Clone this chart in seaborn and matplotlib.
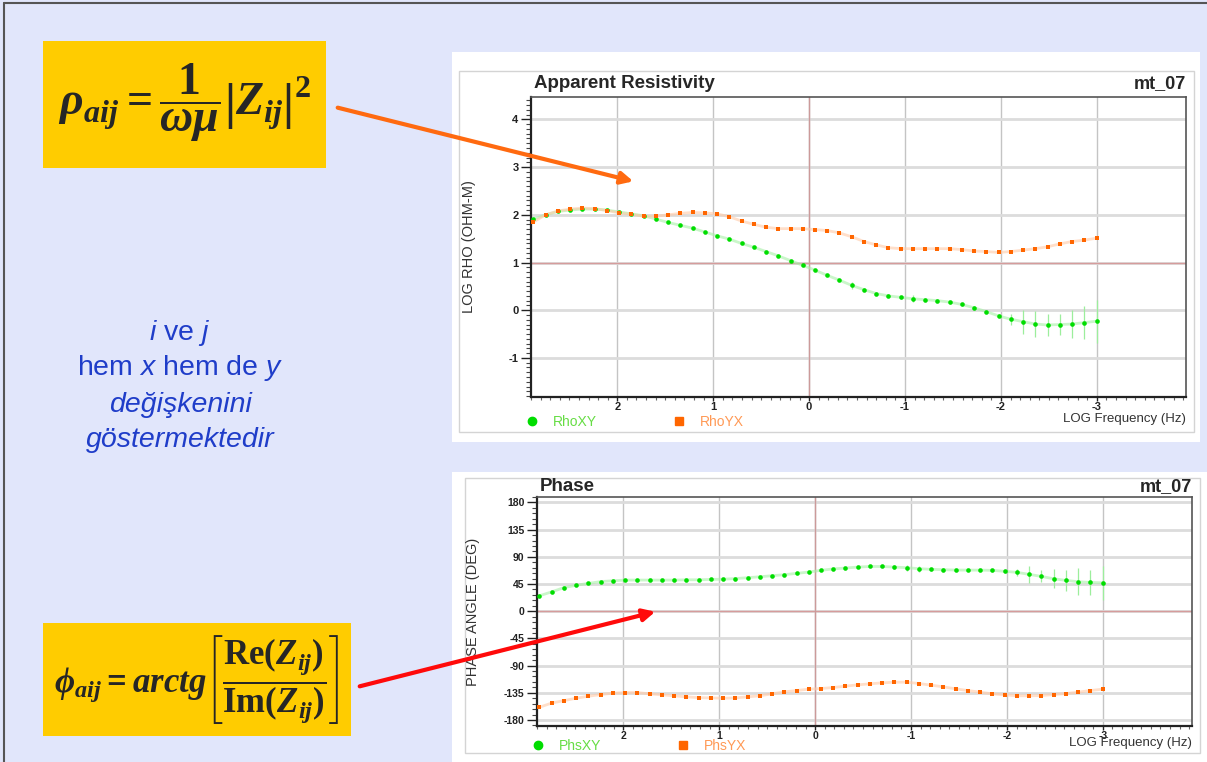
import matplotlib
matplotlib.use("Agg")
import matplotlib.pyplot as plt
import seaborn as sns
from matplotlib.patches import Rectangle, FancyArrowPatch
from matplotlib.lines import Line2D
from matplotlib.ticker import MultipleLocator

# ---- data ----
log_freq = [2.875, 2.747, 2.620, 2.492, 2.364, 2.237, 2.109, 1.981, 1.854, 1.726,
            1.598, 1.471, 1.343, 1.215, 1.088, 0.960, 0.832, 0.705, 0.577, 0.449,
            0.322, 0.194, 0.066, -0.061, -0.189, -0.316, -0.444, -0.572, -0.699, -0.827,
            -0.955, -1.082, -1.210, -1.338, -1.465, -1.593, -1.721, -1.848, -1.976, -2.104,
            -2.231, -2.359, -2.487, -2.614, -2.742, -2.870, -3.0]

rho_xy = [1.91, 2.00, 2.07, 2.10, 2.12, 2.12, 2.10, 2.06, 2.02, 1.98,
          1.91, 1.84, 1.78, 1.72, 1.64, 1.56, 1.49, 1.40, 1.32, 1.23,
          1.14, 1.04, 0.94, 0.84, 0.73, 0.63, 0.52, 0.43, 0.35, 0.30,
          0.27, 0.24, 0.22, 0.20, 0.17, 0.12, 0.05, -0.03, -0.12, -0.19,
          -0.24, -0.29, -0.31, -0.30, -0.29, -0.26, -0.23]
rho_xy_err = [0.02] * 26 + [0.08, 0.03, 0.03, 0.03, 0.03, 0.07, 0.03, 0.03, 0.03, 0.03,
                            0.03, 0.03, 0.03, 0.12, 0.25, 0.27, 0.23, 0.23, 0.30, 0.35, 0.45]
rho_yx = [1.85, 2.00, 2.08, 2.12, 2.14, 2.13, 2.09, 2.04, 2.01, 1.97,
          1.97, 2.00, 2.03, 2.05, 2.04, 2.02, 1.96, 1.87, 1.80, 1.74,
          1.71, 1.71, 1.71, 1.69, 1.67, 1.62, 1.54, 1.44, 1.37, 1.31,
          1.29, 1.29, 1.29, 1.29, 1.29, 1.27, 1.24, 1.23, 1.21, 1.23,
          1.26, 1.29, 1.33, 1.39, 1.44, 1.47, 1.51]

phs_xy = [25.5, 32, 39, 43, 46, 49, 50.4, 51.5, 51.5, 51.5,
          51.5, 51.5, 52, 52, 52.6, 53, 54, 55.4, 57, 58.7,
          60.4, 62.6, 64.8, 67.6, 70, 71.5, 73, 74, 74, 73,
          72, 70.4, 69.3, 68.7, 68.1, 68, 68, 67.6, 66, 64.3,
          61, 57.6, 53.7, 51, 48.8, 47.6, 47]
phs_xy_err = [1] * 29 + [3, 5, 5, 2, 2, 2, 2, 2, 2, 3, 6, 14, 10, 16, 18, 22, 20, 28]
phs_yx = [-159, -152, -148, -144, -140.7, -138, -135.7, -134.6, -134.6, -136.8,
          -138.5, -140, -141.8, -143, -143.5, -144, -143.5, -141.8, -140, -136.8,
          -133.5, -131.3, -129, -128, -126.3, -124, -121.9, -120.2, -118.6, -117.5,
          -117.5, -119.7, -122.4, -125.2, -128.5, -131.3, -134, -136.8, -138.5, -140,
          -140, -139.6, -138, -136.3, -134, -131.3, -129]

rho_ticks = [4, 3, 2, 1, 0, -1]
phs_ticks = [180, 135, 90, 45, 0, -45, -90, -135, -180]
freq_ticks = [2, 1, 0, -1, -2, -3]

GREEN = "#00dd00"
ORANGE = "#ff6600"
W, H = 1207, 762

sns.set_style("white")
plt.rcParams["font.family"] = ["Liberation Sans", "DejaVu Sans"]
plt.rcParams["mathtext.fontset"] = "custom"
plt.rcParams["mathtext.rm"] = "Liberation Serif:bold"
plt.rcParams["mathtext.bf"] = "Liberation Serif:bold"
plt.rcParams["mathtext.bfit"] = "Liberation Serif:italic:bold"
plt.rcParams["mathtext.it"] = "Liberation Sans:italic"


def fx(x):
    return x / W


def fy(y):
    return 1 - y / H


def box(x0, y0, x1, y1, **kw):
    return Rectangle((fx(x0), fy(y1)), fx(x1) - fx(x0), fy(y0) - fy(y1),
                     transform=fig.transFigure, **kw)


fig = plt.figure(figsize=(W / 100, H / 100), dpi=100)
fig.patch.set_facecolor("#e1e6fb")

# slide frame lines
fig.add_artist(Line2D([fx(4), 1], [fy(3), fy(3)], color="#555555", lw=1.5, transform=fig.transFigure))
fig.add_artist(Line2D([fx(4), fx(4)], [fy(3), 0], color="#555555", lw=1.5, transform=fig.transFigure))

# white panels
fig.add_artist(box(452, 52, 1200, 442, facecolor="white", edgecolor="none", zorder=-2))
fig.add_artist(box(459, 71, 1194, 432, facecolor="none", edgecolor="#d4d4d4", lw=1, zorder=-1))
fig.add_artist(box(452, 472, 1207, 762, facecolor="white", edgecolor="none", zorder=-2))
fig.add_artist(box(465, 478, 1200, 753, facecolor="none", edgecolor="#d4d4d4", lw=1, zorder=-1))

# formula boxes
fig.add_artist(box(43, 41, 326, 168, facecolor="#ffcc00", edgecolor="none", zorder=-1))
fig.add_artist(box(43, 623, 351, 736, facecolor="#ffcc00", edgecolor="none", zorder=-1))
fig.text(fx(184), fy(103),
         r"$\mathbfit{\rho}_{\mathbfit{aij}}\mathbf{=}\dfrac{\mathbf{1}}{\mathbfit{\omega\mu}}"
         r"\left|\mathbfit{Z}_{\mathbfit{ij}}\right|^{\mathbf{2}}$",
         fontsize=33, ha="center", va="center")
fig.text(fx(197), fy(680),
         r"$\mathbfit{\phi}_{\mathbfit{aij}}\mathbf{=}\mathbfit{arctg}\left[\dfrac{\mathbf{Re(}\mathbfit{Z}_{\mathbfit{ij}}\mathbf{)}}"
         r"{\mathbf{Im(}\mathbfit{Z}_{\mathbfit{ij}}\mathbf{)}}\right]$",
         fontsize=25, ha="center", va="center")

# middle text
BLUE = "#1f3dc9"
fig.text(fx(180), fy(333), r"$\mathit{i}$ ve $\mathit{j}$", color=BLUE, fontsize=20.5, ha="center", va="center")
fig.text(fx(180), fy(368), r"hem $\mathit{x}$ hem de $\mathit{y}$", color=BLUE, fontsize=20.5, ha="center", va="center")
fig.text(fx(180), fy(405), "değişkenini", color=BLUE, fontsize=20.5, style="italic", ha="center", va="center")
fig.text(fx(180), fy(440), "göstermektedir", color=BLUE, fontsize=20.5, style="italic", ha="center", va="center")


def style_axes(ax, ylim, yticks, yminor, ylabel, hline, title, lab_x):
    ax.set_xlim(2.9, -3.93)
    ax.set_ylim(*ylim)
    ax.set_xticks(freq_ticks)
    ax.set_xticklabels([str(t) for t in freq_ticks])
    ax.set_yticks(yticks)
    ax.set_yticklabels([str(t) for t in yticks])
    ax.xaxis.set_minor_locator(MultipleLocator(0.1))
    ax.yaxis.set_minor_locator(MultipleLocator(yminor))
    ax.tick_params(axis="y", which="major", direction="out", length=7, width=1, pad=2,
                   labelsize=8, colors="#222222", left=True)
    ax.tick_params(axis="y", which="minor", direction="out", length=3.5, width=0.8, left=True, colors="#444444")
    ax.tick_params(axis="x", which="major", direction="out", length=3, width=1, pad=0.5,
                   labelsize=8, colors="#222222", bottom=True)
    ax.tick_params(axis="x", which="minor", direction="out", length=2, width=0.8, bottom=True, colors="#666666")
    for lab in ax.get_xticklabels() + ax.get_yticklabels():
        lab.set_fontweight("bold")
    ax.set_axisbelow(True)
    ax.yaxis.grid(True, color="#dcdcdc", lw=2)
    ax.xaxis.grid(True, color="#c4c4c4", lw=1)
    ax.axhline(hline, color="#d69c9c", lw=1, zorder=1)
    ax.axvline(0, color="#cc9a9a", lw=1, zorder=1)
    for side in ["top", "right"]:
        ax.spines[side].set_color("#555555")
        ax.spines[side].set_linewidth(1.2)
    for side in ["left", "bottom"]:
        ax.spines[side].set_color("#222222")
        ax.spines[side].set_linewidth(1.6)
    ax.set_xlabel("")
    ax.set_ylabel(ylabel, fontsize=10.5, color="#333333")
    ax.yaxis.set_label_coords(lab_x, 0.5)
    ax.text(0.004, 1.045, title, transform=ax.transAxes, fontsize=13.5, fontweight="bold", va="center")
    ax.text(1.0, 1.045, "mt_07", transform=ax.transAxes, fontsize=13, fontweight="bold", ha="right", va="center")
    ax.text(1.0, -0.074, "LOG Frequency (Hz)", transform=ax.transAxes, fontsize=9.5, color="#333333",
            ha="right", va="center")


def draw_series(ax, y1, e1, y2, e2):
    sns.lineplot(x=log_freq, y=y1, ax=ax, color="#a8f0a8", lw=2, alpha=0.6, zorder=2)
    sns.lineplot(x=log_freq, y=y2, ax=ax, color="#ffcaa8", lw=2, alpha=0.6, zorder=2)
    ax.errorbar(log_freq, y1, yerr=e1, fmt="none", ecolor="#9cee9c", elinewidth=0.9, zorder=3)
    ax.errorbar(log_freq, y2, yerr=e2, fmt="none", ecolor="#ffc4a0", elinewidth=0.9, zorder=3)
    sns.scatterplot(x=log_freq, y=y1, ax=ax, color=GREEN, marker="o", s=11, linewidth=0, zorder=4)
    sns.scatterplot(x=log_freq, y=y2, ax=ax, color=ORANGE, marker="s", s=9, linewidth=0, zorder=4)


def legend(ax, labels, x0, y0):
    handles = [Line2D([], [], marker="o", color=GREEN, ls="", ms=6),
               Line2D([], [], marker="s", color=ORANGE, ls="", ms=5.5)]
    ax.legend(handles, labels, loc="center left", bbox_to_anchor=(fx(x0), fy(y0)),
              bbox_transform=fig.transFigure, ncol=2, frameon=False, fontsize=10,
              handlelength=1.0, handletextpad=1.0, columnspacing=5.4, borderpad=0,
              borderaxespad=0, labelcolor=["#66dd44", "#ff9955"])


# ---- apparent resistivity ----
ax1 = fig.add_axes([fx(531), fy(397), fx(1186) - fx(531), fy(97) - fy(397)])
draw_series(ax1, rho_xy, rho_xy_err, rho_yx, [0.02] * len(rho_yx))
style_axes(ax1, (-1.82, 4.47), rho_ticks, 0.1, "LOG RHO (OHM-M)", 1, "Apparent Resistivity", -55 / 655)
legend(ax1, ["RhoXY", "RhoYX"], 525, 422)

# ---- phase ----
ax2 = fig.add_axes([fx(537), fy(726), fx(1192) - fx(537), fy(497) - fy(726)])
draw_series(ax2, phs_xy, phs_xy_err, phs_yx, [1] * len(phs_yx))
style_axes(ax2, (-190, 189), phs_ticks, 9, "PHASE ANGLE (DEG)", 0, "Phase", -57 / 655)
for lab in ax2.get_xticklabels() + ax2.get_yticklabels():
    lab.set_fontsize(7.5)
legend(ax2, ["PhsXY", "PhsYX"], 531, 746)

# arrows
fig.add_artist(FancyArrowPatch((fx(335), fy(107)), (fx(636), fy(182)), transform=fig.transFigure,
                               arrowstyle="-|>", mutation_scale=18, lw=3, color="#ff6a10", zorder=10))
fig.add_artist(FancyArrowPatch((fx(357), fy(687)), (fx(658), fy(611)), transform=fig.transFigure,
                               arrowstyle="-|>", mutation_scale=18, lw=3, color="#ff0a0a", zorder=10))

fig.savefig("out.png", dpi=100, facecolor=fig.get_facecolor())
